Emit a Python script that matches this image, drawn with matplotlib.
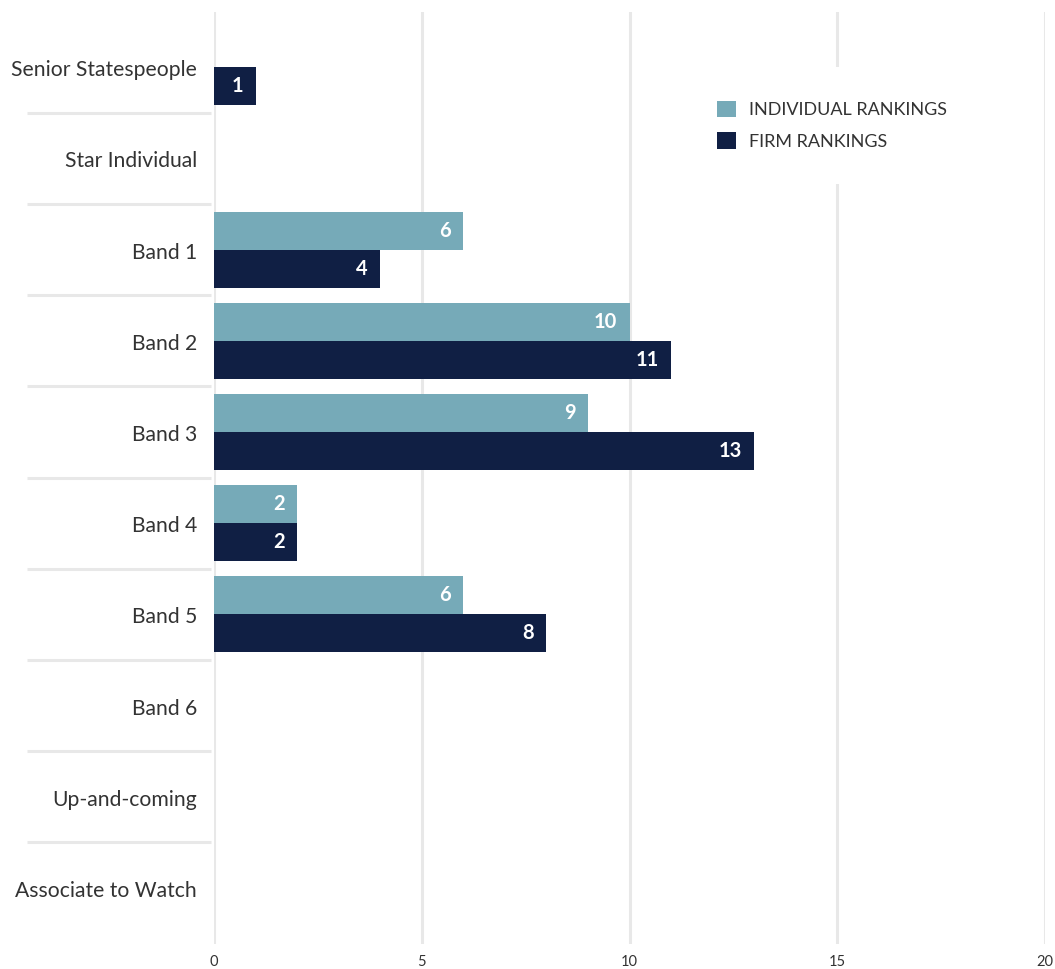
import matplotlib
matplotlib.use("Agg")
import matplotlib.pyplot as plt
import matplotlib.transforms as mtransforms
from matplotlib.patches import Patch
import numpy as np

plt.rcParams['font.family'] = ['Lato', 'DejaVu Sans']

categories = ["Senior Statespeople", "Star Individual", "Band 1", "Band 2", "Band 3",
              "Band 4", "Band 5", "Band 6", "Up-and-coming", "Associate to Watch"]
individual = [0, 0, 6, 10, 9, 2, 6, 0, 0, 0]
firm = [1, 0, 4, 11, 13, 2, 8, 0, 0, 0]
series_names = ["INDIVIDUAL RANKINGS", "FIRM RANKINGS"]
x_ticks = [0, 5, 10, 15, 20]

c_ind = "#76aab8"
c_firm = "#101f44"
grid_c = "#e8e8e8"
text_c = "#333333"

fig = plt.figure(figsize=(10.55, 9.69), dpi=100)
ax = fig.add_axes([214 / 1055, 25 / 969, 831 / 1055, 932 / 969])

y = np.arange(len(categories))
h = 0.417

ax.barh(y - h / 2, individual, height=h, color=c_ind, zorder=3)
ax.barh(y + h / 2, firm, height=h, color=c_firm, zorder=3)

# value labels inside the bar ends
for yy, vals in ((y - h / 2, individual), (y + h / 2, firm)):
    for yi, v in zip(yy, vals):
        if v > 0:
            ax.annotate(str(v), xy=(v, yi), xytext=(-9, 0), textcoords="offset points",
                        ha="right", va="center", color="white", fontsize=14.5,
                        fontweight="bold", zorder=4)

ax.set_xlim(0, 20)
ax.set_ylim(9.614, -0.606)
ax.set_xticks(x_ticks)
ax.set_xticklabels([str(t) for t in x_ticks], fontsize=10.5, color=text_c)
ax.tick_params(axis="x", length=0, pad=8)
ax.set_yticks([])
for s in ax.spines.values():
    s.set_visible(False)

for t in x_ticks:
    ax.axvline(t, color=grid_c, lw=2.2, zorder=1)

# category labels and row separators on the left
trans = mtransforms.blended_transform_factory(ax.transAxes, ax.transData)
label_trans = trans + mtransforms.ScaledTranslation(0, -3 / 100, fig.dpi_scale_trans)
for i, name in enumerate(categories):
    ax.text(-17 / 831, i, name, transform=label_trans, ha="right", va="center",
            fontsize=15.2, color=text_c)
for i in range(len(categories) - 1):
    ax.plot([-187 / 831, -3 / 831], [i + 0.5, i + 0.5], transform=trans,
            color=grid_c, lw=2.2, clip_on=False, solid_capstyle="butt")

handles = [Patch(facecolor=c_ind, edgecolor="none"), Patch(facecolor=c_firm, edgecolor="none")]
leg = ax.legend(handles, series_names, loc="upper left",
                bbox_to_anchor=((683 - 214) / 831, 1 - (67 - 12) / 932), frameon=True,
                fontsize=13, handlelength=1.05, handleheight=1.05, handletextpad=0.72,
                labelspacing=0.79, borderpad=1.86, borderaxespad=0)
leg.get_frame().set_facecolor("white")
leg.get_frame().set_edgecolor("none")
leg.get_frame().set_alpha(1)
leg.set_zorder(5)
for t in leg.get_texts():
    t.set_color(text_c)

fig.savefig("out.png", dpi=100, facecolor="white")
